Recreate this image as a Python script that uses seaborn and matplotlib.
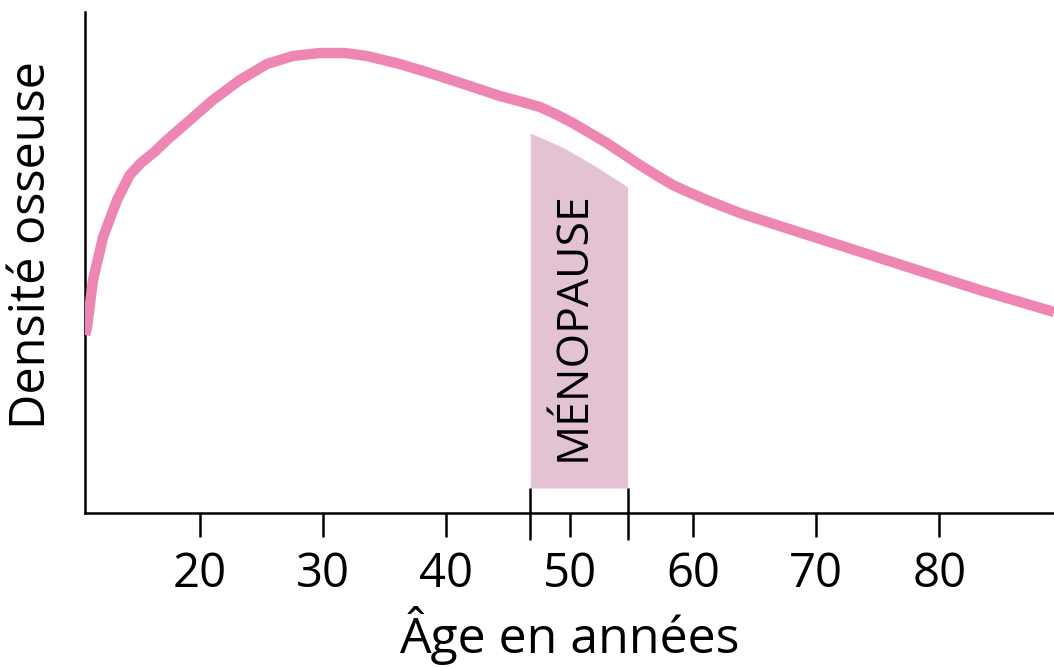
import matplotlib
matplotlib.use("Agg")
import matplotlib.pyplot as plt
import seaborn as sns
import pandas as pd

# bone density curve (age in years, density in arbitrary units)
ages = [10.67, 10.84, 11.32, 12.14, 13.27, 14.3, 15.2, 16.3, 17.32, 19.19, 21.05,
        23.24, 25.43, 27.54, 29.73, 31.76, 33.54, 36.22, 38.90, 41.65, 44.33,
        46.0, 47.6, 49.0, 50.25, 53.01, 54.6, 55.69, 57.0, 58.36, 59.8, 61.12,
        63.80, 67.04, 75.15, 83.26, 89.3]
density = [35.6, 37.2, 46.6, 55.2, 62.6, 67.6, 70.0, 72.2, 74.6, 78.6, 82.6,
           86.6, 89.8, 91.4, 92.0, 92.0, 91.4, 89.8, 87.8, 85.6, 83.4,
           82.3, 81.2, 79.6, 78.0, 74.0, 71.4, 69.6, 67.6, 65.6, 64.0, 62.6,
           60.0, 57.4, 51.0, 44.6, 40.2]

# menopause band
meno_ages = [46.8, 49.4, 52.2, 54.7]
meno_top = [76.0, 73.2, 69.2, 65.2]
meno_bottom = 5.0
meno_start, meno_end = 46.8, 54.7

xticks = [20, 30, 40, 50, 60, 70, 80]

PINK = "#ee86b4"
BAND = "#e3c3d3"

sns.set_style("ticks")
plt.rcParams["font.family"] = ["Open Sans", "DejaVu Sans"]
plt.rcParams["text.color"] = "black"
plt.rcParams["axes.labelcolor"] = "black"
plt.rcParams["xtick.color"] = "black"

fig = plt.figure(figsize=(10.54, 6.68), dpi=100)
ax = fig.add_axes([85 / 1054, 155 / 668, 969 / 1054, 501 / 668])

df = pd.DataFrame({"age": ages, "density": density})

ax.fill_between(meno_ages, meno_bottom, meno_top, color=BAND, lw=0, zorder=1)
sns.lineplot(data=df, x="age", y="density", ax=ax, color=PINK, lw=7.5,
             solid_capstyle="butt", solid_joinstyle="round", zorder=3)

ax.text(50.3, 37.4, "MÉNOPAUSE", rotation=90, ha="center", va="center",
        fontsize=32, color="black")

# menopause markers crossing the x axis
ax.vlines([meno_start, meno_end], -5.4, meno_bottom, color="black", lw=1.8,
          clip_on=False, zorder=4)

ax.set_xlim(10.67, 89.3)
ax.set_ylim(0, 100.2)
ax.set_xticks(xticks)
ax.set_yticks([])
ax.tick_params(axis="x", length=17, width=1.8, labelsize=34, pad=10)
for side in ["top", "right"]:
    ax.spines[side].set_visible(False)
for side in ["left", "bottom"]:
    ax.spines[side].set_linewidth(1.8)
    ax.spines[side].set_color("black")

ax.set_xlabel("Âge en années", fontsize=36, labelpad=6)
ax.set_ylabel("Densité osseuse", fontsize=35)
ax.yaxis.set_label_coords(-0.029, 0.535)

fig.savefig("out.png", dpi=100)
